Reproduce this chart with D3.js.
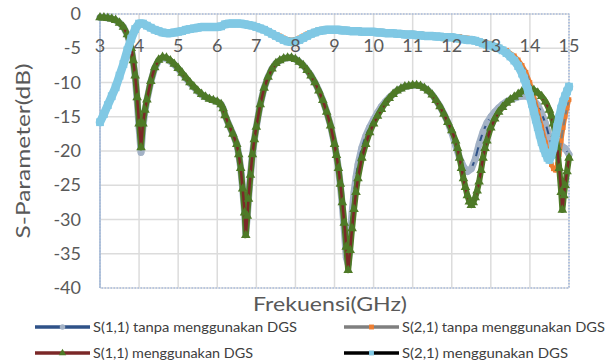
<!DOCTYPE html>
<html>
<head>
<meta charset="utf-8">
<script src="https://cdn.jsdelivr.net/npm/d3@7"></script>
<style>
  body { margin: 0; background: #fff; }
  text { font-family: Lato, "Open Sans", sans-serif; fill: #595959; }
</style>
</head>
<body>
<div id="chart"></div>
<script>
// Tick labels
var xTicks = [3, 4, 5, 6, 7, 8, 9, 10, 11, 12, 13, 14, 15];
var yTicks = [0, -5, -10, -15, -20, -25, -30, -35, -40];

// S(1,1) tanpa menggunakan DGS  [GHz, dB]
var s11Tanpa = [
  [3.0,-0.5],[3.1,-0.5],[3.2,-0.6],[3.3,-0.7],[3.4,-0.9],[3.5,-1.3],[3.6,-1.9],[3.7,-3.0],[3.8,-5.0],[3.85,-6.9],
  [3.9,-9.2],[3.95,-12.6],[4.0,-16.6],[4.05,-20.2],[4.1,-16.4],[4.15,-14.2],[4.2,-12.6],[4.3,-9.9],[4.4,-7.9],[4.5,-6.8],
  [4.6,-6.4],[4.7,-6.5],[4.8,-6.9],[4.9,-7.4],[5.0,-8.0],[5.1,-8.7],[5.2,-9.4],[5.3,-10.1],[5.4,-10.7],[5.5,-11.3],
  [5.6,-11.8],[5.7,-12.1],[5.8,-12.4],[5.9,-12.6],[6.0,-12.8],[6.1,-13.2],[6.15,-13.8],[6.2,-14.8],[6.3,-16.2],[6.4,-17.5],
  [6.5,-19.0],[6.55,-20.5],[6.6,-22.5],[6.65,-25.5],[6.7,-29.0],[6.73,-32.0],[6.77,-29.5],[6.8,-27.0],[6.85,-23.5],[6.9,-20.5],
  [6.95,-18.3],[7.0,-16.5],[7.1,-13.2],[7.2,-10.8],[7.3,-9.2],[7.4,-8.0],[7.5,-7.2],[7.6,-6.8],[7.7,-6.5],[7.8,-6.4],
  [7.9,-6.4],[8.0,-6.6],[8.1,-7.0],[8.2,-7.5],[8.3,-8.2],[8.4,-9.0],[8.5,-10.0],[8.6,-11.2],[8.7,-12.6],[8.8,-14.3],
  [8.9,-16.3],[9.0,-19.0],[9.05,-20.6],[9.1,-22.6],[9.15,-25.0],[9.2,-28.0],[9.25,-31.5],[9.3,-35.5],[9.35,-36.5],[9.4,-32.5],
  [9.45,-29.0],[9.5,-26.0],[9.55,-23.8],[9.6,-22.0],[9.7,-19.5],[9.8,-17.8],[9.9,-16.5],[10.0,-15.4],[10.1,-14.4],[10.2,-13.5],
  [10.3,-12.8],[10.4,-12.2],[10.5,-11.7],[10.6,-11.2],[10.7,-10.9],[10.8,-10.6],[10.9,-10.5],[11.0,-10.4],[11.1,-10.4],[11.2,-10.5],
  [11.3,-10.8],[11.4,-11.2],[11.5,-11.8],[11.6,-12.6],[11.7,-13.5],[11.8,-14.6],[11.9,-15.8],[12.0,-17.3],[12.1,-19.2],[12.2,-21.0],
  [12.3,-22.3],[12.4,-23.0],[12.5,-22.6],[12.6,-21.2],[12.7,-19.0],[12.8,-17.2],[12.9,-15.9],[13.0,-15.0],[13.1,-14.3],[13.2,-13.7],
  [13.3,-13.2],[13.4,-12.8],[13.5,-12.5],[13.6,-12.3],[13.7,-12.1],[13.8,-12.0],[13.9,-12.0],[14.0,-12.2],[14.1,-12.6],[14.2,-13.3],
  [14.3,-14.5],[14.4,-16.0],[14.5,-18.0],[14.6,-20.0],[14.7,-20.6],[14.8,-19.2],[14.9,-19.6],[15.0,-20.5]
];

// S(2,1) tanpa menggunakan DGS
var s21Tanpa = [
  [3.0,-15.8],[3.1,-14.6],[3.2,-13.3],[3.3,-12.0],[3.4,-10.7],[3.5,-9.0],[3.6,-7.3],[3.7,-5.3],[3.8,-3.6],[3.9,-2.2],
  [4.0,-1.3],[4.1,-1.3],[4.2,-1.6],[4.3,-1.9],[4.4,-2.2],[4.5,-2.4],[4.6,-2.6],[4.7,-2.7],[4.8,-2.7],[4.9,-2.6],
  [5.0,-2.5],[5.1,-2.4],[5.2,-2.2],[5.3,-2.1],[5.4,-2.0],[5.5,-1.9],[5.6,-1.8],[5.7,-1.8],[5.8,-1.8],[5.9,-1.8],
  [6.0,-1.8],[6.1,-1.7],[6.2,-1.4],[6.3,-1.3],[6.4,-1.3],[6.5,-1.3],[6.6,-1.3],[6.7,-1.4],[6.8,-1.5],[6.9,-1.6],
  [7.0,-1.8],[7.1,-2.0],[7.2,-2.2],[7.3,-2.4],[7.4,-2.7],[7.5,-3.0],[7.6,-3.2],[7.7,-3.5],[7.8,-3.7],[7.9,-3.8],
  [8.0,-3.7],[8.1,-3.5],[8.2,-3.2],[8.3,-2.9],[8.4,-2.7],[8.5,-2.5],[8.6,-2.3],[8.7,-2.2],[8.8,-2.1],[8.9,-2.1],
  [9.0,-2.1],[9.2,-2.2],[9.4,-2.3],[9.6,-2.3],[9.8,-2.4],[10.0,-2.4],[10.2,-2.5],[10.4,-2.6],[10.6,-2.7],[10.8,-2.8],
  [11.0,-2.8],[11.2,-2.9],[11.4,-3.0],[11.6,-3.1],[11.8,-3.2],[12.0,-3.2],[12.2,-3.3],[12.4,-3.5],[12.6,-3.7],[12.8,-4.0],
  [13.0,-4.3],[13.2,-4.8],[13.4,-5.3],[13.6,-6.1],[13.7,-6.7],[13.8,-7.5],[13.9,-8.5],[14.0,-10.0],[14.1,-12.0],[14.2,-14.2],
  [14.3,-16.5],[14.4,-18.8],[14.5,-21.0],[14.55,-22.0],[14.6,-22.6],[14.65,-22.8],[14.7,-22.0],[14.75,-20.5],[14.8,-18.5],[14.85,-16.6],
  [14.9,-15.0],[14.95,-13.7],[15.0,-12.5]
];

// S(1,1) menggunakan DGS
var s11Dgs = [
  [3.0,-0.5],[3.1,-0.5],[3.2,-0.6],[3.3,-0.7],[3.4,-0.9],[3.5,-1.3],[3.6,-1.9],[3.7,-3.0],[3.8,-5.0],[3.85,-6.8],
  [3.9,-9.0],[3.95,-12.2],[4.0,-16.0],[4.05,-19.5],[4.1,-16.0],[4.15,-14.0],[4.2,-12.5],[4.3,-9.8],[4.4,-7.8],[4.5,-6.7],
  [4.6,-6.3],[4.7,-6.4],[4.8,-6.8],[4.9,-7.3],[5.0,-7.9],[5.1,-8.6],[5.2,-9.3],[5.3,-10.0],[5.4,-10.6],[5.5,-11.2],
  [5.6,-11.7],[5.7,-12.1],[5.8,-12.4],[5.9,-12.6],[6.0,-12.8],[6.1,-13.2],[6.15,-13.8],[6.2,-14.8],[6.3,-16.2],[6.4,-17.5],
  [6.5,-19.0],[6.55,-20.5],[6.6,-22.5],[6.65,-25.5],[6.7,-29.0],[6.73,-32.3],[6.77,-29.5],[6.8,-27.0],[6.85,-23.5],[6.9,-20.5],
  [6.95,-18.3],[7.0,-16.5],[7.1,-13.2],[7.2,-10.8],[7.3,-9.2],[7.4,-8.0],[7.5,-7.2],[7.6,-6.8],[7.7,-6.5],[7.8,-6.4],
  [7.9,-6.4],[8.0,-6.6],[8.1,-7.0],[8.2,-7.5],[8.3,-8.2],[8.4,-9.0],[8.5,-10.0],[8.6,-11.2],[8.7,-12.6],[8.8,-14.3],
  [8.9,-16.3],[9.0,-19.0],[9.05,-20.6],[9.1,-22.5],[9.15,-24.8],[9.2,-27.5],[9.25,-30.5],[9.3,-34.0],[9.35,-37.4],[9.4,-34.5],
  [9.45,-31.3],[9.5,-28.5],[9.55,-26.0],[9.6,-24.0],[9.7,-21.0],[9.8,-19.0],[9.9,-17.3],[10.0,-16.0],[10.1,-14.9],[10.2,-13.9],
  [10.3,-13.0],[10.4,-12.3],[10.5,-11.7],[10.6,-11.2],[10.7,-10.9],[10.8,-10.6],[10.9,-10.5],[11.0,-10.4],[11.1,-10.4],[11.2,-10.5],
  [11.3,-10.8],[11.4,-11.2],[11.5,-11.8],[11.6,-12.6],[11.7,-13.5],[11.8,-14.6],[11.9,-15.8],[12.0,-17.0],[12.1,-18.5],[12.15,-19.6],
  [12.2,-21.0],[12.25,-22.5],[12.3,-24.0],[12.35,-25.3],[12.4,-26.5],[12.45,-27.4],[12.5,-27.9],[12.55,-27.5],[12.6,-26.8],[12.65,-25.8],
  [12.7,-24.5],[12.75,-22.8],[12.8,-21.0],[12.85,-19.6],[12.9,-18.5],[13.0,-16.6],[13.1,-15.3],[13.2,-14.3],[13.3,-13.6],[13.4,-13.0],
  [13.5,-12.5],[13.6,-12.1],[13.7,-11.7],[13.8,-11.3],[13.9,-11.0],[14.0,-10.9],[14.1,-11.1],[14.2,-11.5],[14.3,-12.0],[14.4,-12.8],
  [14.5,-14.0],[14.55,-14.9],[14.6,-16.0],[14.65,-17.5],[14.7,-19.5],[14.75,-22.5],[14.8,-26.0],[14.83,-28.6],[14.87,-26.5],[14.9,-25.0],
  [14.95,-23.0],[15.0,-21.0]
];

// S(2,1) menggunakan DGS
var s21Dgs = [
  [3.0,-15.8],[3.1,-14.6],[3.2,-13.3],[3.3,-12.0],[3.4,-10.7],[3.5,-9.0],[3.6,-7.3],[3.7,-5.3],[3.8,-3.6],[3.9,-2.2],
  [4.0,-1.4],[4.1,-1.4],[4.2,-1.7],[4.3,-2.0],[4.4,-2.3],[4.5,-2.5],[4.6,-2.7],[4.7,-2.8],[4.8,-2.8],[4.9,-2.7],
  [5.0,-2.6],[5.1,-2.5],[5.2,-2.3],[5.3,-2.2],[5.4,-2.1],[5.5,-2.0],[5.6,-1.9],[5.7,-1.9],[5.8,-1.9],[5.9,-1.9],
  [6.0,-1.9],[6.1,-1.8],[6.2,-1.5],[6.3,-1.4],[6.4,-1.4],[6.5,-1.4],[6.6,-1.4],[6.7,-1.5],[6.8,-1.6],[6.9,-1.7],
  [7.0,-1.9],[7.1,-2.1],[7.2,-2.3],[7.3,-2.6],[7.4,-2.9],[7.5,-3.2],[7.6,-3.5],[7.7,-3.8],[7.8,-4.0],[7.9,-4.1],
  [8.0,-4.0],[8.1,-3.8],[8.2,-3.5],[8.3,-3.2],[8.4,-2.9],[8.5,-2.7],[8.6,-2.5],[8.7,-2.4],[8.8,-2.3],[8.9,-2.3],
  [9.0,-2.3],[9.1,-2.3],[9.2,-2.4],[9.3,-2.4],[9.4,-2.5],[9.5,-2.5],[9.6,-2.5],[9.7,-2.6],[9.8,-2.6],[9.9,-2.6],
  [10.0,-2.6],[10.1,-2.7],[10.2,-2.7],[10.3,-2.8],[10.4,-2.8],[10.5,-2.8],[10.6,-2.9],[10.7,-2.9],[10.8,-3.0],[10.9,-3.0],
  [11.0,-3.0],[11.1,-3.1],[11.2,-3.1],[11.3,-3.2],[11.4,-3.2],[11.5,-3.2],[11.6,-3.3],[11.7,-3.3],[11.8,-3.4],[11.9,-3.4],
  [12.0,-3.4],[12.1,-3.5],[12.2,-3.6],[12.3,-3.7],[12.4,-3.8],[12.5,-3.8],[12.6,-3.9],[12.7,-4.1],[12.8,-4.3],[12.9,-4.5],
  [13.0,-4.6],[13.1,-4.8],[13.2,-5.0],[13.3,-5.3],[13.4,-5.7],[13.5,-6.2],[13.6,-6.8],[13.7,-7.6],[13.8,-8.7],[13.85,-9.4],
  [13.9,-10.2],[13.95,-11.1],[14.0,-12.0],[14.05,-13.1],[14.1,-14.2],[14.15,-15.4],[14.2,-16.5],[14.25,-17.6],[14.3,-18.7],[14.35,-19.6],
  [14.4,-20.3],[14.45,-21.0],[14.5,-21.3],[14.55,-20.6],[14.6,-19.5],[14.65,-18.0],[14.7,-16.5],[14.75,-15.1],[14.8,-13.8],[14.85,-12.8],
  [14.9,-12.0],[14.95,-11.3],[15.0,-10.6]
];

// band = width of the marker-coloured trail under the series line
var series = [
  {name: 'S(1,1) tanpa menggunakan DGS', data: s11Tanpa, line: '#2f5288', lineW: 2, marker: 'circle', fill: '#a3b2c6', size: 34, band: 7, bandTop: false},
  {name: 'S(2,1) tanpa menggunakan DGS', data: s21Tanpa, line: '#7f7f7f', lineW: 2, marker: 'square', fill: '#ed7d31', size: 22, band: 4.5, bandTop: false},
  {name: 'S(1,1) menggunakan DGS', data: s11Dgs, line: '#7b2828', lineW: 2.5, marker: 'triangle', fill: '#4e7a27', size: 40, band: 6, bandTop: false},
  {name: 'S(2,1) menggunakan DGS', data: s21Dgs, line: '#000000', lineW: 2.5, marker: 'square', fill: '#80c8e4', size: 60, band: 8.5, bandTop: true}
];

var svgWidth = 612;
var svgHeight = 362;

var svg = d3.select('#chart')
  .append('svg')
  .attr('width', svgWidth)
  .attr('height', svgHeight);

var x = d3.scaleLinear().domain([3, 15]).range([100, 569]);
var y = d3.scaleLinear().domain([0, -40]).range([14, 288]);

// gridlines
svg.append('g')
  .selectAll('line.hgrid')
  .data(yTicks)
  .enter()
  .append('line')
  .attr('x1', 100).attr('x2', 569)
  .attr('y1', d => y(d)).attr('y2', d => y(d))
  .attr('stroke', '#dcdcdc')
  .attr('stroke-width', 1.5);

svg.append('g')
  .selectAll('line.vgrid')
  .data(xTicks)
  .enter()
  .append('line')
  .attr('x1', d => x(d)).attr('x2', d => x(d))
  .attr('y1', 14).attr('y2', 288)
  .attr('stroke', '#dcdcdc')
  .attr('stroke-width', 1.5);

// plot border (dotted) and left axis line
svg.append('rect')
  .attr('x', 100).attr('y', 14)
  .attr('width', 469).attr('height', 274)
  .attr('fill', 'none')
  .attr('stroke', '#8eaadb')
  .attr('stroke-width', 1.2)
  .attr('stroke-dasharray', '1.5,1.5');

svg.append('line')
  .attr('x1', 100).attr('x2', 100)
  .attr('y1', 14).attr('y2', 288)
  .attr('stroke', '#a9bcd9')
  .attr('stroke-width', 1.5);

// series
var line = d3.line()
  .x(d => x(d[0]))
  .y(d => y(d[1]));

var symbols = {circle: d3.symbolCircle, square: d3.symbolSquare, triangle: d3.symbolTriangle};

series.forEach(function(s) {
  var g = svg.append('g');
  var drawBand = function() {
    g.append('path')
      .datum(s.data)
      .attr('d', line)
      .attr('fill', 'none')
      .attr('stroke', s.fill)
      .attr('stroke-width', s.band)
      .attr('stroke-linejoin', 'round')
      .attr('stroke-linecap', 'round');
  };
  if (!s.bandTop) drawBand();
  g.append('path')
    .datum(s.data)
    .attr('d', line)
    .attr('fill', 'none')
    .attr('stroke', s.line)
    .attr('stroke-width', s.lineW)
    .attr('stroke-linejoin', 'round');
  if (s.bandTop) drawBand();
  g.selectAll('path.mk')
    .data(s.data)
    .enter()
    .append('path')
    .attr('class', 'mk')
    .attr('transform', d => `translate(${x(d[0])},${y(d[1])})`)
    .attr('d', d3.symbol().type(symbols[s.marker]).size(s.size))
    .attr('fill', s.fill);
});

// x tick labels (drawn inside the plot, near the top)
svg.append('g')
  .selectAll('text')
  .data(xTicks)
  .enter()
  .append('text')
  .attr('x', d => x(d))
  .attr('y', 52)
  .attr('text-anchor', 'middle')
  .attr('font-size', '18px')
  .text(d => d);

// y tick labels
svg.append('g')
  .selectAll('text')
  .data(yTicks)
  .enter()
  .append('text')
  .attr('x', 81)
  .attr('y', d => y(d) + 6)
  .attr('text-anchor', 'end')
  .attr('font-size', '18px')
  .text(d => d);

// axis titles
svg.append('text')
  .attr('transform', 'translate(30, 151) rotate(-90)')
  .attr('text-anchor', 'middle')
  .attr('font-size', '19px')
  .attr('textLength', 175)
  .attr('lengthAdjust', 'spacingAndGlyphs')
  .text('S-Parameter(dB)');

svg.append('text')
  .attr('x', 330)
  .attr('y', 311)
  .attr('text-anchor', 'middle')
  .attr('font-size', '19px')
  .attr('textLength', 154)
  .attr('lengthAdjust', 'spacingAndGlyphs')
  .text('Frekuensi(GHz)');

// legend
var legendPos = [
  {x: 35, y: 327, len: 204},
  {x: 344, y: 327, len: 203},
  {x: 35, y: 353, len: 160},
  {x: 344, y: 353, len: 166}
];

series.forEach(function(s, i) {
  var p = legendPos[i];
  var g = svg.append('g');
  g.append('line')
    .attr('x1', p.x).attr('x2', p.x + 55)
    .attr('y1', p.y).attr('y2', p.y)
    .attr('stroke', s.line)
    .attr('stroke-width', 3.5);
  g.append('path')
    .attr('transform', `translate(${p.x + 27.5},${p.y})`)
    .attr('d', d3.symbol().type(symbols[s.marker]).size(24))
    .attr('fill', s.fill);
  g.append('text')
    .attr('x', p.x + 58)
    .attr('y', p.y + 4.5)
    .attr('font-size', '12.5px')
    .style('fill', '#404040')
    .attr('textLength', p.len)
    .attr('lengthAdjust', 'spacingAndGlyphs')
    .text(s.name);
});
</script>
</body>
</html>
